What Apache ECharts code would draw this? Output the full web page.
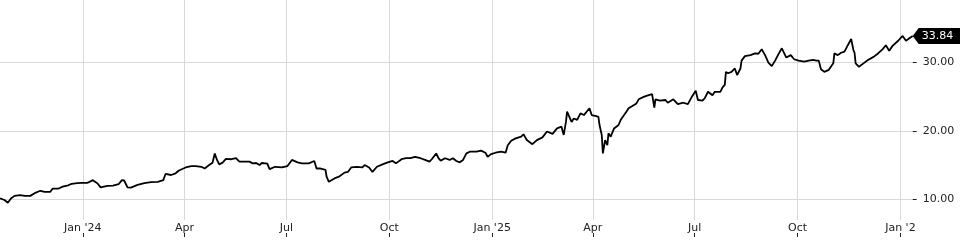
<!DOCTYPE html>
<html><head><meta charset="utf-8">
<script src="https://cdn.jsdelivr.net/npm/echarts@6/dist/echarts.min.js"></script>
<style>html,body{margin:0;padding:0;background:#fff}#c{width:960px;height:240px}</style>
</head><body><div id="c"></div>
<script>
const dates = [
'2023-10-19','2023-10-23','2023-10-26','2023-10-29','2023-11-01','2023-11-06','2023-11-10','2023-11-15','2023-11-19','2023-11-24','2023-11-28',
'2023-12-03','2023-12-05','2023-12-10','2023-12-14','2023-12-19','2023-12-22','2023-12-27','2023-12-31',
'2024-01-05','2024-01-07','2024-01-10','2024-01-14','2024-01-17','2024-01-23','2024-01-28',
'2024-02-02','2024-02-05','2024-02-07','2024-02-10','2024-02-13','2024-02-19','2024-02-25',
'2024-03-02','2024-03-08','2024-03-13','2024-03-15','2024-03-20','2024-03-24','2024-03-27','2024-03-31',
'2024-04-02','2024-04-07','2024-04-11','2024-04-16','2024-04-19','2024-04-23','2024-04-26','2024-04-28','2024-04-30',
'2024-05-02','2024-05-05','2024-05-08','2024-05-13','2024-05-17','2024-05-20','2024-05-24','2024-05-29',
'2024-06-01','2024-06-04','2024-06-07','2024-06-09','2024-06-14','2024-06-16','2024-06-21','2024-06-27',
'2024-07-02','2024-07-06','2024-07-11','2024-07-15','2024-07-21','2024-07-26','2024-07-28','2024-07-31',
'2024-08-05','2024-08-06','2024-08-08','2024-08-13','2024-08-17','2024-08-22','2024-08-25','2024-08-28',
'2024-09-02','2024-09-07','2024-09-09','2024-09-13','2024-09-16','2024-09-20','2024-09-25','2024-09-29',
'2024-10-04','2024-10-07','2024-10-12','2024-10-16','2024-10-20','2024-10-24','2024-10-29',
'2024-11-02','2024-11-06','2024-11-08','2024-11-12','2024-11-14','2024-11-16','2024-11-20','2024-11-24','2024-11-27','2024-11-30',
'2024-12-03','2024-12-06','2024-12-09','2024-12-12','2024-12-18','2024-12-22','2024-12-26','2024-12-28','2024-12-31',
'2025-01-04','2025-01-09','2025-01-13','2025-01-15','2025-01-18','2025-01-22','2025-01-27','2025-01-29',
'2025-02-01','2025-02-06','2025-02-10','2025-02-15','2025-02-19','2025-02-24','2025-02-28',
'2025-03-04','2025-03-06','2025-03-08','2025-03-09','2025-03-13','2025-03-15','2025-03-18','2025-03-21','2025-03-24','2025-03-29','2025-03-31',
'2025-04-04','2025-04-06','2025-04-07','2025-04-09','2025-04-10','2025-04-12','2025-04-14','2025-04-15','2025-04-17','2025-04-20','2025-04-24','2025-04-26',
'2025-05-01','2025-05-03','2025-05-06','2025-05-10','2025-05-12','2025-05-17','2025-05-21','2025-05-24','2025-05-26','2025-05-27','2025-05-31',
'2025-06-05','2025-06-07','2025-06-12','2025-06-16','2025-06-21','2025-06-25','2025-06-29',
'2025-07-02','2025-07-04','2025-07-08','2025-07-10','2025-07-13','2025-07-17','2025-07-19','2025-07-24','2025-07-26','2025-07-28','2025-07-29','2025-07-31',
'2025-08-03','2025-08-06','2025-08-08','2025-08-11','2025-08-12','2025-08-15','2025-08-20','2025-08-24','2025-08-27','2025-08-30',
'2025-09-02','2025-09-05','2025-09-08','2025-09-11','2025-09-14','2025-09-17','2025-09-21','2025-09-25','2025-09-28',
'2025-10-02','2025-10-07','2025-10-11','2025-10-15','2025-10-18','2025-10-20','2025-10-22','2025-10-25','2025-10-29',
'2025-11-02','2025-11-03','2025-11-06','2025-11-09','2025-11-12','2025-11-15','2025-11-18','2025-11-20','2025-11-21','2025-11-22','2025-11-25','2025-11-29',
'2025-12-03','2025-12-08','2025-12-12','2025-12-16','2025-12-19','2025-12-22','2025-12-25','2025-12-30',
'2026-01-03','2026-01-06','2026-01-09','2026-01-12'
];
const values = [
10.15,9.9,9.5,10.15,10.5,10.6,10.5,10.5,10.9,11.25,11.1,
11.1,11.55,11.55,11.85,12.05,12.25,12.35,12.4,
12.4,12.55,12.8,12.35,11.75,11.95,12.0,
12.2,12.8,12.75,11.75,11.7,12.1,12.35,
12.5,12.55,12.8,13.7,13.55,13.8,14.2,14.5,
14.65,14.85,14.85,14.75,14.5,15.0,15.35,16.7,15.75,
15.1,15.35,15.9,15.85,16.0,15.5,15.5,15.5,
15.25,15.3,15.0,15.3,15.2,14.4,14.75,14.65,
14.85,15.75,15.4,15.25,15.25,15.6,14.5,14.5,
14.3,13.3,12.55,13.05,13.3,13.9,14.0,14.65,
14.75,14.65,15.0,14.65,14.0,14.75,15.1,15.35,
15.6,15.25,15.85,16.0,16.0,16.2,16.0,
15.75,15.5,15.85,16.7,16.0,15.65,16.0,15.75,16.0,15.6,
15.4,15.75,16.7,16.95,16.95,17.1,16.8,16.2,16.6,
16.8,16.95,16.8,17.9,18.55,18.9,19.15,19.5,
18.65,18.05,18.65,19.05,19.9,19.55,20.35,
20.6,19.4,21.3,22.8,21.3,21.8,21.6,22.55,22.3,23.3,22.3,
22.15,22.05,20.85,19.4,16.7,18.65,17.9,19.65,19.15,20.35,20.85,21.6,
22.8,23.3,23.6,24.0,24.6,25.0,25.2,25.35,23.4,24.6,24.4,
24.5,24.1,24.6,23.9,24.1,23.9,25.1,
25.85,24.5,24.4,24.75,25.7,25.2,25.7,25.7,26.35,26.7,28.6,28.4,
28.6,29.1,28.15,29.1,30.25,30.9,31.05,31.3,31.25,31.9,
31.05,29.95,29.45,30.25,31.2,32.05,30.7,31.05,30.45,
30.25,30.1,30.25,30.35,30.25,30.25,29.0,28.6,28.9,
29.85,31.3,31.05,31.4,31.55,32.5,33.4,31.8,31.4,29.85,29.35,29.85,
30.35,30.8,31.3,31.9,32.5,31.7,32.4,33.15,
33.85,33.15,33.5,33.84
];
const tickDates = ['2024-01-01','2024-04-01','2024-07-01','2024-10-01','2025-01-01','2025-04-01','2025-07-01','2025-10-01','2026-01-01'];
const tickLabels = ["Jan '24","Apr","Jul","Oct","Jan '25","Apr","Jul","Oct","Jan '2"];
const yTicks = [10, 20, 30];
const xStart = '2023-10-19';
const yMin = 6.98, yMax = 39.1;
const lastValue = values[values.length - 1];

const ts = s => { const p = s.split('-').map(Number); return Date.UTC(p[0], p[1] - 1, p[2]); };
const tickTs = tickDates.map(ts);
const xMin = ts(xStart), xMax = ts(dates[dates.length - 1]);
const FONT = 'DejaVu Sans';
const TXT = '#222';
const GRID = '#d9d9d9';
const labelFor = v => { let i = 0, b = Infinity; tickTs.forEach((t, k) => { const d = Math.abs(t - v); if (d < b) { b = d; i = k; } }); return tickLabels[i]; };

const chart = echarts.init(document.getElementById('c'), null, {renderer: 'canvas'});
chart.setOption({
  animation: false,
  backgroundColor: '#fff',
  grid: {left: 0, right: 47.3, top: 0, bottom: 20},
  xAxis: [
    {type: 'value', min: xMin, max: xMax,
     axisLine: {show: false},
     axisTick: {show: false, customValues: tickTs},
     axisLabel: {show: true, margin: 3, customValues: tickTs, color: TXT, fontFamily: FONT, fontSize: 11, formatter: labelFor},
     splitLine: {show: true, lineStyle: {color: GRID, width: 1}}},
    {type: 'value', min: xMin, max: xMax, offset: 13, position: 'bottom',
     axisLine: {show: false},
     axisTick: {show: true, inside: false, length: 4, customValues: tickTs, lineStyle: {color: TXT, width: 1}},
     axisLabel: {show: false},
     splitLine: {show: false}}
  ],
  yAxis: {type: 'value', position: 'right', min: yMin, max: yMax,
     axisLine: {show: false},
     axisTick: {show: true, length: 4, customValues: yTicks, lineStyle: {color: TXT}},
     axisLabel: {show: true, margin: 10, customValues: yTicks, color: TXT, fontFamily: FONT, fontSize: 11, formatter: v => v.toFixed(2)},
     splitLine: {show: true, lineStyle: {color: GRID, width: 1}}},
  series: [{
    type: 'line', xAxisIndex: 0, yAxisIndex: 0,
    data: dates.map((d, i) => [ts(d), values[i]]),
    showSymbol: false, symbol: 'none',
    lineStyle: {color: '#000', width: 1.8},
    clip: false
  }]
});

const px = chart.convertToPixel({xAxisIndex: 0}, xMax);
const py = chart.convertToPixel({yAxisIndex: 0}, lastValue);
chart.setOption({
  graphic: [{
    type: 'group', children: [
      {type: 'polygon', shape: {points: [[px, py], [px + 6, py - 8], [960, py - 8], [960, py + 8], [px + 6, py + 8]]}, style: {fill: '#000'}},
      {type: 'text', x: px + 9, y: py, style: {text: lastValue.toFixed(2), fill: '#fff', font: '11px "DejaVu Sans"', verticalAlign: 'middle', align: 'left'}}
    ]
  }]
});
</script></body></html>
